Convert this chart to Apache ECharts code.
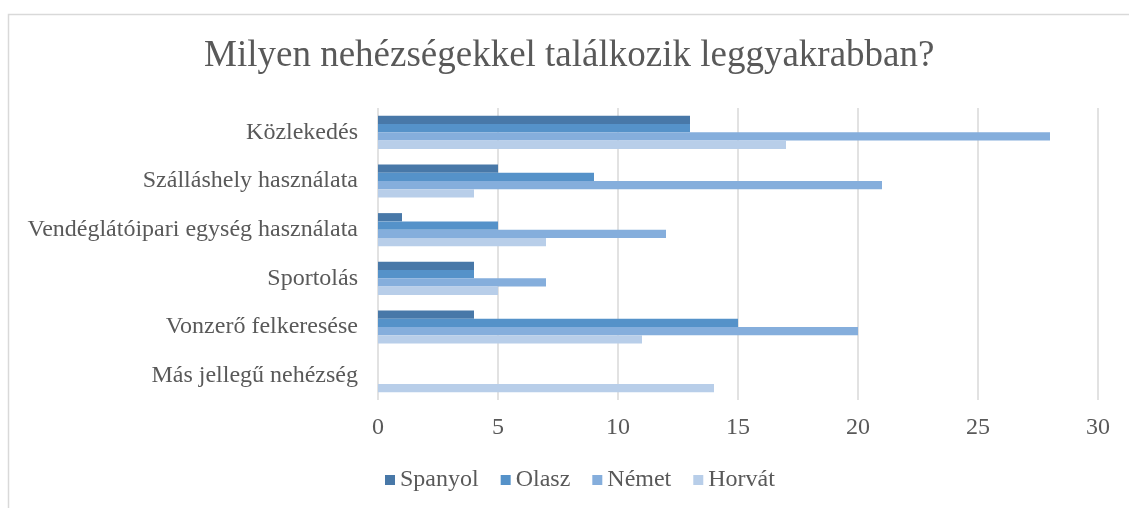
<!DOCTYPE html>
<html>
<head>
<meta charset="utf-8">
<script src="https://cdn.jsdelivr.net/npm/echarts@6/dist/echarts.min.js"></script>
<style>
  html, body { margin: 0; padding: 0; background: #fff; }
  #chart { width: 1129px; height: 508px; }
</style>
</head>
<body>
<div id="chart"></div>
<script>
// kategóriák (fentről lefelé)
var categories = ['Közlekedés', 'Szálláshely használata', 'Vendéglátóipari egység használata',
  'Sportolás', 'Vonzerő felkeresése', 'Más jellegű nehézség'];
var seriesNames = ['Spanyol', 'Olasz', 'Német', 'Horvát'];
var spanyol = [13, 5, 1, 4, 4, 0];
var olasz   = [13, 9, 5, 4, 15, 0];
var nemet   = [28, 21, 12, 7, 20, 0];
var horvat  = [17, 4, 7, 5, 11, 14];
var xTicks = [0, 5, 10, 15, 20, 25, 30];
var colors = ['#4878a8', '#5592c9', '#85aedc', '#b8cee9'];

var font = '"Liberation Serif", "Times New Roman", serif';
var txt = '#595959';

var chart = echarts.init(document.getElementById('chart'));

var seriesData = [spanyol, olasz, nemet, horvat];
var series = seriesNames.map(function (name, i) {
  return {
    name: name,
    type: 'bar',
    data: seriesData[i],
    barGap: '0%',
    barCategoryGap: '32%',
    itemStyle: { color: colors[i] },
    silent: true
  };
});

var option = {
  animation: false,
  color: colors,
  graphic: [{
    type: 'rect',
    left: 6, top: 12,
    shape: { width: 1200, height: 600 },
    style: { fill: 'none', stroke: '#d9d9d9', lineWidth: 1.5 },
    silent: true
  }],
  title: {
    text: 'Milyen nehézségekkel találkozik leggyakrabban?',
    left: 199,
    top: 33,
    textStyle: { fontFamily: font, fontSize: 37, fontWeight: 'normal', color: txt }
  },
  legend: {
    data: seriesNames,
    left: 380,
    top: 463,
    itemWidth: 10,
    itemHeight: 10,
    itemGap: 22,
    icon: 'rect',
    textStyle: { fontFamily: font, fontSize: 24, color: txt }
  },
  grid: { left: 378, right: 31, top: 108, bottom: 108, containLabel: false },
  xAxis: {
    type: 'value',
    min: xTicks[0],
    max: xTicks[xTicks.length - 1],
    interval: 5,
    axisLine: { show: false },
    axisTick: { show: false },
    splitLine: { show: true, lineStyle: { color: '#d9d9d9', width: 1.5 } },
    axisLabel: { fontFamily: font, fontSize: 24, color: txt, margin: 16 }
  },
  yAxis: {
    type: 'category',
    data: categories,
    inverse: true,
    axisLine: { show: false },
    axisTick: { show: false },
    axisLabel: { fontFamily: font, fontSize: 24, color: txt, margin: 20 }
  },
  series: series
};

chart.setOption(option);
</script>
</body>
</html>
